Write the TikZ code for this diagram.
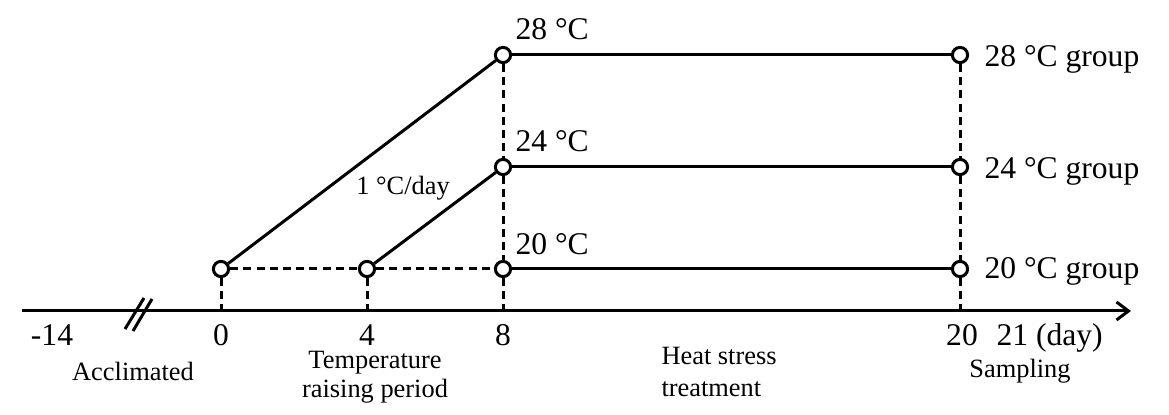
\documentclass[tikz,border=0pt]{standalone}
\usepackage{fontspec}
\setmainfont{Liberation Serif}
\usetikzlibrary{arrows.meta}

\begin{document}
\begin{tikzpicture}[x=0.5pt,y=-0.5pt,line width=1.5pt,
  dot/.style={circle,draw,line width=1.5pt,fill=white,inner sep=0pt,minimum size=7.6pt},
  dash line/.style={dash pattern=on 4pt off 2.6pt},
  big/.style={font=\fontsize{15.8}{18}\selectfont,inner sep=0pt},
  small/.style={font=\fontsize{13.2}{15.6}\selectfont,inner sep=0pt}]
\useasboundingbox (0,0) rectangle (1169,415);
% time axis
\coordinate (start) at (22,311);
\coordinate (stop) at (1131,311);
\draw[-{Straight Barb[length=6pt,width=9pt,line width=1.5pt]}] (start) -- (stop);
\coordinate (b1) at (125,329); \coordinate (b2) at (144,298); % axis break
\coordinate (b3) at (133,331); \coordinate (b4) at (152,299);
\draw (b1) -- (b2);
\draw (b3) -- (b4);
\coordinate (a0) at (221,311);
\coordinate (a4) at (367,311);
\coordinate (a8) at (503,311);
\coordinate (a20) at (960,311);
% points
\node[dot] (s0) at (221,269) {};
\node[dot] (s4) at (367,269) {};
\node[dot] (t20) at (503,269) {};
\node[dot] (t24) at (503,167) {};
\node[dot] (t28) at (503,55) {};
\node[dot] (g20) at (960,269) {};
\node[dot] (g24) at (960,167) {};
\node[dot] (g28) at (960,55) {};
% dashed guides
\draw[dash line] (s0) -- (s4);
\draw[dash line] (s4) -- (t20);
\draw[dash line] (s0) -- (a0);
\draw[dash line] (s4) -- (a4);
\draw[dash line] (t28) -- (t24);
\draw[dash line] (t24) -- (t20);
\draw[dash line] (t20) -- (a8);
\draw[dash line] (g28) -- (g24);
\draw[dash line] (g24) -- (g20);
\draw[dash line] (g20) -- (a20);
% ramps and holding lines
\draw (s0) -- (t28);
\draw (s4) -- (t24);
\draw (t28) -- (g28);
\draw (t24) -- (g24);
\draw (t20) -- (g20);
% labels
\node[big,anchor=base west] (l28) at (514,40) {28 °C};
\node[big,anchor=base west] (l24) at (514,152) {24 °C};
\node[big,anchor=base west] (l20) at (514,255) {20 °C};
\node[big,anchor=base west] (lg28) at (983,67) {28 °C group};
\node[big,anchor=base west] (lg24) at (983,179) {24 °C group};
\node[big,anchor=base west] (lg20) at (983,279) {20 °C group};
\node[small,anchor=base] (rate) at (403,195) {1 °C/day};
% ticks
\node[big,anchor=base] (n14) at (52,346) {-14};
\node[big,anchor=base] (n0) at (221,346) {0};
\node[big,anchor=base] (n4) at (367,346) {4};
\node[big,anchor=base] (n8) at (503,346) {8};
\node[big,anchor=base] (n20) at (962,346) {20};
\node[big,anchor=base west] (n21) at (995,346) {21 (day)};
% periods
\node[small,anchor=base] (acc) at (133,381) {Acclimated};
\node[small,anchor=base] (raise1) at (375,369) {Temperature};
\node[small,anchor=base] (raise2) at (375,398) {raising period};
\node[small,anchor=base west] (heat1) at (660,365) {Heat stress};
\node[small,anchor=base west] (heat2) at (660,397) {treatment};
\node[small,anchor=base] (samp) at (1020,378) {Sampling};
\end{tikzpicture}
\end{document}
